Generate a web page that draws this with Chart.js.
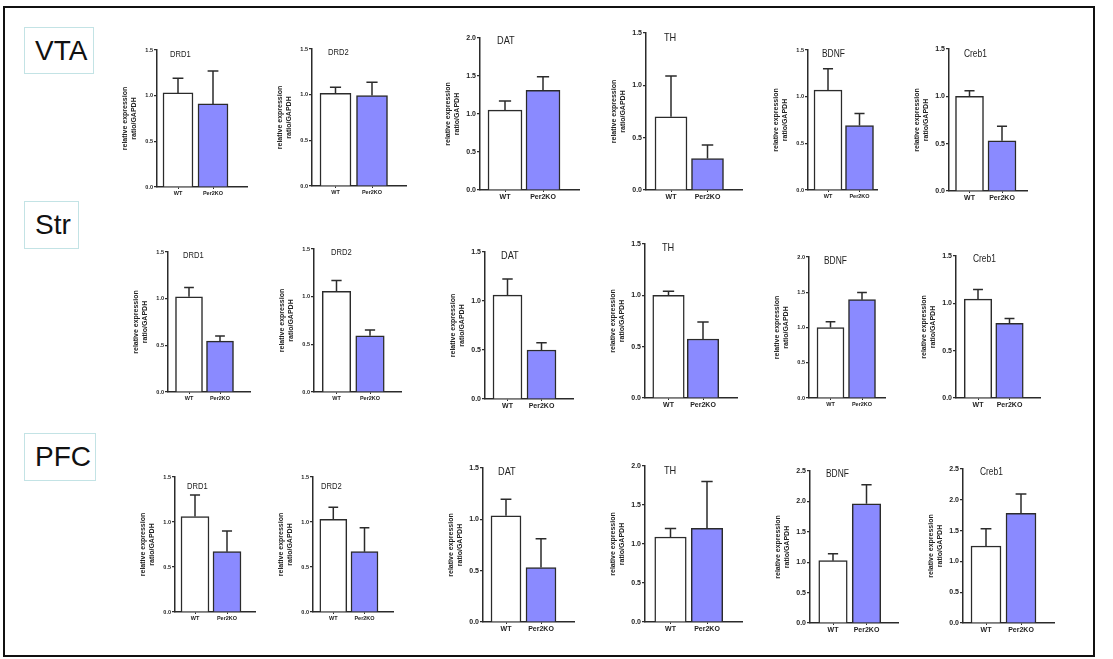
<!DOCTYPE html>
<html>
<head>
<meta charset="utf-8">
<script src="https://cdn.jsdelivr.net/npm/chart.js@4.4.1/dist/chart.umd.min.js"></script>
<style>
  body { margin: 0; background: #fff; font-family: "Liberation Sans", Arial, sans-serif; }
  #frame { position: absolute; left: 3px; top: 6px; width: 1092px; height: 651px; border: 2px solid #111; box-sizing: border-box; }
  .region { position: absolute; border: 1.5px solid #c3e3e5; box-sizing: border-box; font-size: 28px; color: #111; padding-left: 10px; line-height: 46px; }
  .panel { position: absolute; }
</style>
</head>
<body>
<div id="frame"></div>
<script>
const regions = ['VTA', 'Str', 'PFC'];
const genes = ['DRD1', 'DRD2', 'DAT', 'TH', 'BDNF', 'Creb1'];
const groups = ['WT', 'Per2KO'];

// mean relative expression (ratio/GAPDH) and SEM
const vtaWT    = [1.03, 1.015, 1.05, 0.70, 1.07, 1.00];
const vtaWTSem = [0.16, 0.065, 0.12, 0.39, 0.23, 0.06];
const vtaKO    = [0.91, 0.99, 1.31, 0.30, 0.69, 0.53];
const vtaKOSem = [0.36, 0.145, 0.18, 0.13, 0.13, 0.155];

const strWT    = [1.02, 1.055, 1.06, 1.00, 1.00, 1.045];
const strWTSem = [0.10, 0.115, 0.165, 0.04, 0.08, 0.10];
const strKO    = [0.545, 0.59, 0.50, 0.575, 1.395, 0.79];
const strKOSem = [0.055, 0.06, 0.075, 0.165, 0.10, 0.05];

const pfcWT    = [1.06, 1.03, 1.035, 1.09, 1.025, 1.25];
const pfcWTSem = [0.24, 0.135, 0.16, 0.11, 0.115, 0.28];
const pfcKO    = [0.67, 0.67, 0.53, 1.20, 1.96, 1.78];
const pfcKOSem = [0.23, 0.265, 0.28, 0.60, 0.315, 0.315];

// top of each y axis (ticks every 0.5)
const vtaMax = [1.5, 1.5, 2.0, 1.5, 1.5, 1.5];
const strMax = [1.5, 1.5, 1.5, 1.5, 2.0, 1.5];
const pfcMax = [1.5, 1.5, 1.5, 2.0, 2.5, 2.5];

const byRegion = [
  [vtaWT, vtaWTSem, vtaKO, vtaKOSem, vtaMax],
  [strWT, strWTSem, strKO, strKOSem, strMax],
  [pfcWT, pfcWTSem, pfcKO, pfcKOSem, pfcMax]
];

// page layout: axis x, axis top, axis bottom, x axis end, WT centre, KO centre, bar width
const panelBoxes = [
  [157, 50, 187, 247, 178, 213, 30],
  [312, 49, 186, 406, 335.5, 372, 31],
  [480, 38, 190, 579, 505, 543, 34],
  [646, 33, 190, 742, 671, 707.5, 32],
  [808, 50, 190, 877, 828, 859.5, 28],
  [949, 49, 191, 1027, 969.5, 1002, 28],
  [168, 252, 392, 250, 189, 220, 27],
  [314, 249, 392, 401, 336.5, 370, 28.5],
  [485, 252, 399, 573, 507.5, 541.5, 29],
  [645, 244, 398, 737, 668.5, 703, 31.5],
  [809, 257, 398, 885, 830.5, 862, 27],
  [956, 256, 398, 1040, 978, 1009.5, 27.5],
  [175, 477, 612, 255, 195, 227, 28],
  [313, 477, 612, 393, 333.3, 364.5, 27],
  [483, 468, 622, 574, 506, 541, 30],
  [645, 466, 622, 742, 670.5, 707, 31.5],
  [810, 471, 623, 898, 833, 866.5, 28.5],
  [963, 469, 623, 1054, 986, 1021, 30]
];
// gene label offset from the axis corner
const titleOffsets = [
  [13, 0], [16, -1], [17, -3], [18, -1], [14, -1], [15, 0],
  [15, -1], [17, -1], [16, -2], [17, -2], [15, -1], [17, -2],
  [12, 5], [8, 5], [15, -2], [19, -1], [16, -2], [17, -2]
];
const titleSizes = [9.5, 9.5, 11.5, 11.5, 10.5, 10.5];
const tickSizes = [
  5.5, 5.5, 7, 7, 5.5, 7,
  5.5, 5.5, 7, 7, 5.5, 7,
  5.5, 5.5, 7, 7, 7, 7
];
const regionBoxes = [[24, 27, 70, 47], [24, 201, 55, 48], [24, 433, 72, 48]];

const ink = '#2b2b2b';

const errorBars = {
  id: 'errorBars',
  afterDatasetsDraw(chart) {
    const ds = chart.data.datasets[0];
    const yScale = chart.scales.y;
    const ctx = chart.ctx;
    ctx.save();
    ctx.strokeStyle = ink;
    ctx.lineWidth = 1.5;
    chart.getDatasetMeta(0).data.forEach((bar, i) => {
      const tip = yScale.getPixelForValue(ds.data[i].y + ds.sem[i]);
      const half = bar.width * 0.18;
      ctx.beginPath();
      ctx.moveTo(bar.x, bar.y);
      ctx.lineTo(bar.x, tip);
      ctx.moveTo(bar.x - half, tip);
      ctx.lineTo(bar.x + half, tip);
      ctx.stroke();
    });
    ctx.restore();
  }
};

const panelTitle = {
  id: 'panelTitle',
  afterDraw(chart, args, opts) {
    const ctx = chart.ctx;
    ctx.save();
    ctx.fillStyle = '#222';
    ctx.font = opts.size + 'px "Liberation Sans", Arial, sans-serif';
    ctx.textBaseline = 'top';
    ctx.translate(chart.chartArea.left + opts.dx, chart.chartArea.top + opts.dy);
    ctx.scale(0.8, 1);
    ctx.fillText(opts.text, 0, 0);
    ctx.restore();
  }
};

regions.forEach((name, r) => {
  const [x, y, w, h] = regionBoxes[r];
  const box = document.createElement('div');
  box.className = 'region';
  box.style.left = x + 'px';
  box.style.top = y + 'px';
  box.style.width = w + 'px';
  box.style.height = h + 'px';
  box.textContent = name;
  document.body.appendChild(box);
});

const gutter = 36, padTop = 10, xh = 14;

regions.forEach((name, r) => {
  const [wt, wtSem, ko, koSem, yMax] = byRegion[r];
  genes.forEach((gene, g) => {
    const idx = r * 6 + g;
    const [ax, top, bottom, right, c0, c1, bw] = panelBoxes[idx];
    const unit = c1 - c0;
    const lo = -(c0 - ax) / unit;
    const hi = (right - c0) / unit;
    const fs = tickSizes[idx];

    const div = document.createElement('div');
    div.className = 'panel';
    div.style.left = (ax - gutter) + 'px';
    div.style.top = (top - padTop) + 'px';
    div.style.width = (right - ax + gutter + 2) + 'px';
    div.style.height = (bottom - top + padTop + xh + 2) + 'px';
    const canvas = document.createElement('canvas');
    div.appendChild(canvas);
    document.body.appendChild(div);

    new Chart(canvas, {
      type: 'bar',
      data: {
        datasets: [{
          data: [{ x: 0, y: wt[g] }, { x: 1, y: ko[g] }],
          sem: [wtSem[g], koSem[g]],
          backgroundColor: ['#ffffff', '#8a8aff'],
          borderColor: ink,
          borderWidth: 1.5,
          barThickness: bw
        }]
      },
      options: {
        animation: false,
        responsive: true,
        maintainAspectRatio: false,
        layout: { padding: { left: 0, top: padTop, right: 2, bottom: 2 } },
        plugins: {
          legend: { display: false },
          tooltip: { enabled: false },
          panelTitle: { text: gene, dx: titleOffsets[idx][0], dy: titleOffsets[idx][1], size: titleSizes[g] }
        },
        scales: {
          x: {
            type: 'linear',
            offset: false,
            bounds: 'data',
            min: lo,
            max: hi,
            afterBuildTicks: s => {
              s.ticks = groups.map((lab, i) => ({ value: i }));
              s.min = lo;
              s.max = hi;
            },
            afterFit: s => { s.height = xh; },
            ticks: {
              callback: v => groups[v],
              font: { family: '"Liberation Sans", Arial', size: fs, weight: 'bold' },
              color: '#222', padding: 1, maxRotation: 0, autoSkip: false
            },
            grid: { offset: false, drawOnChartArea: false, tickLength: 2, color: ink },
            border: { color: ink, width: 1.5 }
          },
          y: {
            min: 0,
            max: yMax[g],
            afterFit: s => { s.width = gutter; },
            ticks: {
              stepSize: 0.5,
              callback: v => v.toFixed(1),
              font: { family: '"Liberation Sans", Arial', size: fs, weight: 'bold' },
              color: '#222', padding: 1
            },
            grid: { drawOnChartArea: false, tickLength: 3, color: ink, lineWidth: 1.2 },
            border: { color: ink, width: 1.5 },
            title: {
              display: true,
              text: ['relative expression', 'ratio/GAPDH'],
              font: { family: '"Liberation Sans", Arial', size: 7, weight: 'bold' },
              color: '#222',
              padding: 0
            }
          }
        }
      },
      plugins: [errorBars, panelTitle]
    });
  });
});
</script>
</body>
</html>
